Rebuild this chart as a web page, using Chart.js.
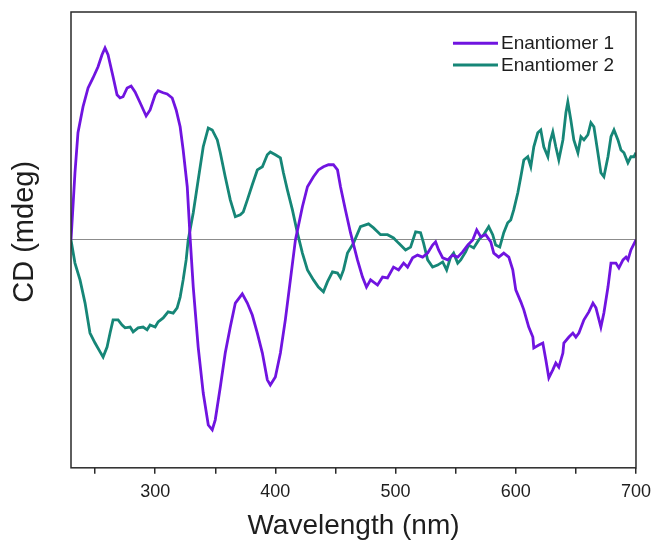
<!DOCTYPE html>
<html>
<head>
<meta charset="utf-8">
<script src="https://cdn.jsdelivr.net/npm/chart.js@4/dist/chart.umd.min.js"></script>
<style>
  html, body { margin: 0; padding: 0; background: #ffffff; }
  #wrap { width: 654px; height: 544px; }
</style>
</head>
<body>
<div id="wrap"><canvas id="cd" width="654" height="544"></canvas></div>
<script>
// CD spectra of the two enantiomers (wavelength in nm, signal in mdeg)
const wavelength1 = [
  230, 233.3, 235.8, 240, 244.2, 248.3, 252.5, 255.8, 258.3, 260.8,
  265, 268.3, 270.8, 273.3, 276.7, 280, 283.3, 287.5, 292.5, 295.8,
  300, 302.5, 306.7, 310, 314.2, 317.5, 320.8, 323.3, 326.7, 329.2,
  331.7, 335.8, 340, 344.2, 347.5, 350, 354.2, 358.3, 362.5, 366.7,
  372.5, 376.7, 380.8, 385, 389.2, 393.3, 395.8, 400, 404.2, 408.3,
  412.5, 416.7, 422.5, 426.7, 431.7, 435.8, 440, 444.2, 448.3, 451.7,
  454.2, 458.3, 462.5, 468.3, 472.5, 475.8, 479.2, 485, 489.2, 493.3,
  498.3, 502.5, 506.7, 510, 514.2, 518.3, 522.5, 526.7, 530.8, 533.3,
  535.8, 539.2, 543.3, 547.5, 551.7, 555.8, 560, 564.2, 567.5, 570.8,
  575, 579.2, 581.7, 585.8, 590, 594.2, 597.5, 600, 604.2, 606.7,
  610.8, 614.2, 615, 619.2, 622.5, 625, 627.5, 630.8, 633.3, 635.8,
  639.2, 640, 644.2, 647.5, 650, 652.5, 656.7, 660.8, 664.2, 666.7,
  670.8, 673.3, 676.7, 679.2, 683.3, 685.8, 689.2, 691.7, 693.3, 695.8,
  700
];
const cd1 = [
  0, 16.8, 26.8, 33.3, 38, 40.5, 43.3, 46.3, 48, 46.3,
  40.8, 36.3, 35.5, 35.8, 38, 38.5, 37, 34.3, 31, 32.5,
  36.3, 37.3, 36.8, 36.5, 35.5, 32.5, 28.3, 22.5, 13.3, 0,
  -11.8, -26.8, -38.3, -46.3, -47.5, -45, -36.8, -28.3, -21.8, -15.8,
  -13.5, -15.8, -18.8, -23.3, -28.3, -35, -36.3, -34.3, -28.3, -20,
  -10, 0, 8.3, 13.3, 15.8, 17.5, 18.3, 18.8, 18.8, 17.5,
  13.3, 7.5, 1.8, -5, -9.3, -11.8, -10, -11.3, -9.3, -9.5,
  -6.8, -7.5, -5.8, -6.8, -4.5, -3.8, -4.3, -3.3, -1.3, -0.5,
  -2.5, -4.5, -5, -3.8, -4.3, -3, -1.3, 0, 2.5, 0.8,
  1.3, -0.5, -3.3, -4.3, -3.3, -4.3, -7.5, -12.5, -15.5, -17.5,
  -21.8, -24.3, -27, -26.3, -25.8, -30, -34.5, -32.5, -30.8, -31.8,
  -28.3, -25.8, -24.3, -23.3, -24.3, -23.3, -20, -18, -15.8, -17,
  -21.8, -18.3, -11.8, -5.8, -5.8, -7, -5, -4.3, -5, -2.5,
  0
];
const wavelength2 = [
  230, 233.3, 237.5, 241.7, 245.8, 250, 254.2, 256.7, 260, 262.5,
  265, 269.2, 272.5, 275, 279.2, 281.7, 285.8, 290, 293.3, 295.8,
  300, 302.5, 306.7, 310.8, 315, 318.3, 320.8, 323.3, 325.8, 327.5,
  331.7, 335.8, 340, 344.2, 347.5, 351.7, 354.2, 358.3, 362.5, 366.7,
  370.8, 373.3, 376.7, 380.8, 385, 389.2, 393.3, 395.8, 400, 404.2,
  406.7, 410, 414.2, 418.3, 422.5, 426.7, 431.7, 435.8, 440, 443.3,
  447.5, 451.7, 454.2, 456.7, 460, 465, 470.8, 477.5, 481.7, 487.5,
  493.3, 498.3, 502.5, 508.3, 512.5, 516.7, 520.8, 523.3, 526.7, 530.8,
  535, 539.2, 542.5, 545.8, 548.3, 551.7, 554.2, 558.3, 560.8, 565,
  569.2, 573.3, 577.5, 580.8, 583.3, 586.7, 590, 593.3, 595.8, 598.3,
  601.7, 604.2, 606.7, 610, 612.5, 615, 618.3, 620.8, 623.3, 626.7,
  628.3, 630.8, 633.3, 635.8, 639.2, 641.7, 643.3, 645.8, 648.3, 651.7,
  654.2, 656.7, 660, 662.5, 665, 668.3, 670.8, 673.3, 676.7, 679.2,
  681.7, 685, 687.5, 690, 693.3, 695.8, 698.3, 700
];
const cd2 = [
  0, -5.8, -10, -15.8, -23.3, -25.8, -28, -29.3, -26.8, -23.3,
  -20, -20, -21.3, -22, -21.8, -23, -22, -21.8, -22.5, -21.3,
  -21.8, -20.5, -19.5, -18, -18.3, -17, -14.3, -10, -5, 0,
  6.8, 15, 23.3, 28, 27.5, 25, 21.8, 15.8, 10, 5.8,
  6.3, 7, 10, 13.8, 17.5, 18.3, 21.3, 22, 21.3, 20.5,
  16.8, 12.5, 7.5, 1.8, -3.3, -7.5, -10, -11.8, -13, -10.5,
  -8, -8.3, -9.5, -7.5, -3.3, -0.8, 3.3, 4, 3, 1.3,
  1.3, 0.5, -0.8, -2.5, -1.8, 2, 1.8, -0.8, -5, -6.8,
  -6.3, -5.5, -7.5, -4.3, -3.3, -5.8, -5, -3, -1.3, -2,
  0, 1.3, 3.3, 1.3, -1.3, -1.8, 1.8, 4.3, 5, 7.5,
  11.8, 15.8, 20, 20.8, 18.3, 23.3, 26.8, 27.5, 23.3, 20.8,
  24.3, 27, 23.3, 20, 25, 31.8, 34.5, 30, 25, 21.8,
  25.8, 25, 26.3, 29.3, 28.3, 21.8, 16.8, 15.8, 20.8, 25.8,
  27.5, 25, 22.5, 21.8, 19.3, 20.8, 20.8, 21.8
];
const seriesNames = ['Enantiomer 1', 'Enantiomer 2'];
const seriesColors = ['#7014e0', '#168677'];
const xTickValues = [250, 300, 350, 400, 450, 500, 550, 600, 650, 700];
const xRange = [230, 700];
const yRange = [-57, 57];

const toPoints = (xs, ys) => xs.map((x, i) => ({ x: x, y: ys[i] }));

const FONT = "Arial, 'Liberation Sans', Helvetica, sans-serif";
const INK = '#1e1e1e';

// Box around the plotting area
const framePlugin = {
  id: 'frame',
  afterDatasetsDraw(chart) {
    const { ctx, chartArea: a } = chart;
    ctx.save();
    ctx.strokeStyle = '#2a2a2a';
    ctx.lineWidth = 1.5;
    ctx.strokeRect(a.left, a.top, a.right - a.left, a.bottom - a.top);
    ctx.restore();
  }
};

// Line-sample legend in the upper right corner of the plot
const cornerLegend = {
  id: 'cornerLegend',
  afterDraw(chart) {
    const { ctx, chartArea: a } = chart;
    const x0 = a.right - 183;
    const lineLen = 45;
    const rowStart = a.top + 31.3;
    const rowStep = 21.7;
    ctx.save();
    ctx.font = '19px ' + FONT;
    ctx.textBaseline = 'middle';
    ctx.textAlign = 'left';
    chart.data.datasets.forEach((ds, i) => {
      const y = rowStart + i * rowStep;
      ctx.strokeStyle = ds.borderColor;
      ctx.lineWidth = 3;
      ctx.beginPath();
      ctx.moveTo(x0, y);
      ctx.lineTo(x0 + lineLen, y);
      ctx.stroke();
      ctx.fillStyle = INK;
      ctx.fillText(ds.label, x0 + lineLen + 3, y + 0.5);
    });
    ctx.restore();
  }
};

new Chart(document.getElementById('cd'), {
  type: 'line',
  data: {
    datasets: [
      {
        label: seriesNames[0],
        data: toPoints(wavelength1, cd1),
        borderColor: seriesColors[0],
        borderWidth: 2.8,
        pointRadius: 0,
        tension: 0,
        fill: false
      },
      {
        label: seriesNames[1],
        data: toPoints(wavelength2, cd2),
        borderColor: seriesColors[1],
        borderWidth: 2.8,
        pointRadius: 0,
        tension: 0,
        fill: false
      }
    ]
  },
  options: {
    responsive: false,
    animation: false,
    events: [],
    layout: { padding: { left: 3.6, right: 18, top: 12, bottom: 1 } },
    plugins: {
      legend: { display: false },
      tooltip: { enabled: false }
    },
    scales: {
      x: {
        type: 'linear',
        min: xRange[0],
        max: xRange[1],
        afterBuildTicks: (axis) => { axis.ticks = xTickValues.map(v => ({ value: v })); },
        border: { display: false },
        grid: {
          drawOnChartArea: false,
          drawTicks: true,
          tickLength: 6,
          tickColor: '#2a2a2a',
          lineWidth: 1.5
        },
        ticks: {
          autoSkip: false,
          maxRotation: 0,
          padding: 3,
          color: INK,
          font: { family: FONT, size: 18, lineHeight: 1.644 },
          callback: (v) => (v % 100 === 0 ? String(v) : '')
        },
        title: {
          display: true,
          text: 'Wavelength (nm)',
          color: INK,
          font: { family: FONT, size: 28 },
          padding: { top: 0, bottom: 0 }
        }
      },
      y: {
        type: 'linear',
        min: yRange[0],
        max: yRange[1],
        afterBuildTicks: (axis) => { axis.ticks = [{ value: 0 }]; },
        border: { display: false },
        grid: {
          drawTicks: false,
          color: '#8c8c8c',
          lineWidth: 1
        },
        ticks: { display: false },
        title: {
          display: true,
          // leading spaces lift the rotated, centred title a little above the middle
          text: '  CD (mdeg)',
          color: INK,
          font: { family: FONT, size: 29 },
          padding: { top: 4, bottom: 28.6 }
        }
      }
    }
  },
  plugins: [framePlugin, cornerLegend]
});
</script>
</body>
</html>
